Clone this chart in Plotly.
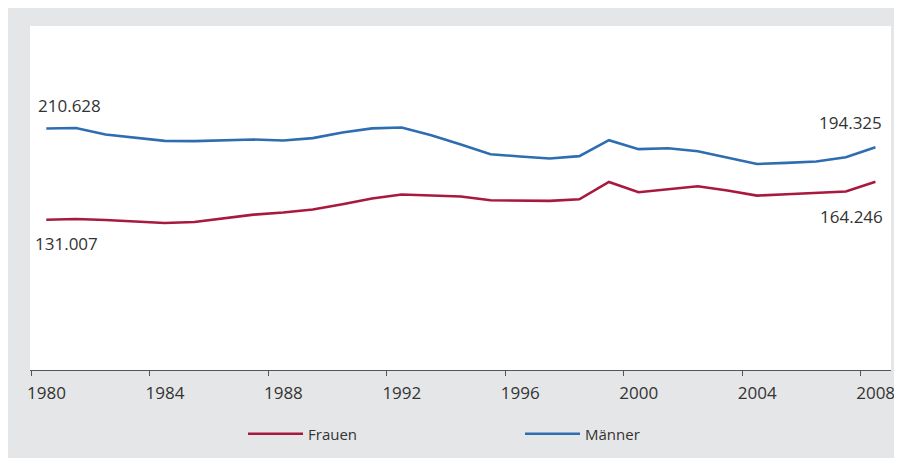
import plotly.graph_objects as go

years = list(range(1980, 2009))
maenner = [210.628, 211.0, 205.4, 202.4, 199.8, 199.6, 200.4, 201.0, 200.2, 202.2,
           207.2, 210.7, 211.5, 204.8, 196.7, 188.2, 186.2, 184.5, 186.5, 200.4,
           192.6, 193.4, 190.8, 185.3, 179.7, 180.6, 181.8, 185.6, 194.325]
frauen = [131.007, 131.7, 130.8, 129.7, 128.2, 129.1, 132.6, 135.5, 137.3, 139.9,
          144.5, 149.5, 153.0, 152.4, 151.3, 148.0, 147.8, 147.5, 148.9, 164.0,
          155.0, 157.9, 160.3, 156.5, 152.1, 153.3, 154.4, 155.6, 164.246]
tick_years = [1980, 1984, 1988, 1992, 1996, 2000, 2004, 2008]
label_first_m, label_last_m = "210.628", "194.325"
label_first_f, label_last_f = "131.007", "164.246"

RED = "#a8183f"
BLUE = "#2e6db2"
GRAY = "#e5e6e8"
TXT = "#333333"
FONT = "Open Sans"

xpos = [y + 0.5 for y in years]

fig = go.Figure()
fig.add_trace(go.Scatter(x=xpos, y=frauen, mode="lines", name="Frauen",
                         line=dict(color=RED, width=2.6)))
fig.add_trace(go.Scatter(x=xpos, y=maenner, mode="lines", name="Männer",
                         line=dict(color=BLUE, width=2.6)))

ann_font = dict(family=FONT, size=17, color=TXT)
annotations = [
    dict(x=xpos[0], y=maenner[0], text=label_first_m, xanchor="left", yanchor="middle",
         xshift=-10, yshift=23, showarrow=False, font=ann_font),
    dict(x=xpos[0], y=frauen[0], text=label_first_f, xanchor="left", yanchor="middle",
         xshift=-13, yshift=-24, showarrow=False, font=ann_font),
    dict(x=xpos[-1], y=maenner[-1], text=label_last_m, xanchor="right", yanchor="middle",
         xshift=9, yshift=25, showarrow=False, font=ann_font),
    dict(x=xpos[-1], y=frauen[-1], text=label_last_f, xanchor="right", yanchor="middle",
         xshift=10, yshift=-35, showarrow=False, font=ann_font),
]

L, R, T, B = 22, 7, 18, 88
W, H = 894, 450
pw, ph = W - L - R, H - T - B
def px2x(px): return (px - L) / pw
def py2y(py): return (H - B - py) / ph

fig.update_layout(
    width=W, height=H,
    margin=dict(l=L, r=R, t=T, b=B),
    paper_bgcolor=GRAY,
    plot_bgcolor="white",
    showlegend=True,
    legend=dict(orientation="h", x=px2x(236), y=py2y(426), xanchor="left", yanchor="middle",
                font=dict(family=FONT, size=15, color=TXT), bgcolor="rgba(0,0,0,0)",
                entrywidth=207, itemwidth=55),
    annotations=annotations,
    font=dict(family=FONT, color=TXT),
)
fig.update_xaxes(range=[1979.95, 2009.025], tickvals=tick_years,
                 ticktext=[str(t) for t in tick_years],
                 showgrid=False, zeroline=False, showline=True, linecolor="#555555",
                 linewidth=1, ticks="outside", ticklen=5, tickcolor="#555555",
                 ticklabelshift=15, ticklabelstandoff=3,
                 tickfont=dict(family=FONT, size=17, color=TXT))
fig.update_yaxes(range=[0, 300], visible=False, showgrid=False, zeroline=False)

fig.write_html("out.html")
